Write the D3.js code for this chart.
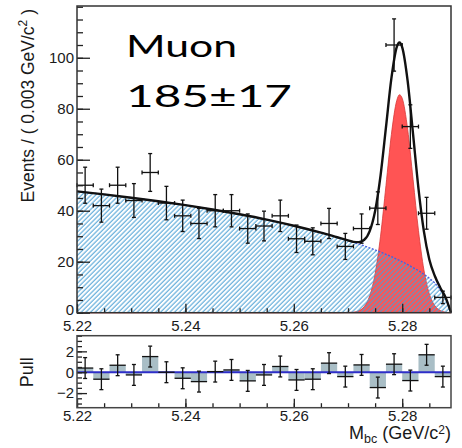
<!DOCTYPE html>
<html>
<head>
<meta charset="utf-8">
<style>
    body { margin: 0; background: white; }
    svg { display: block; font-family: "Liberation Sans", Arial, sans-serif; }
    .tick text { font-size: 15px; fill: #1a1a1a; }
</style>
</head>
<body>
<svg width="462" height="448"></svg>
<script src="https://d3js.org/d3.v7.min.js"></script>
<script>
// histogram: M_bc, 23 bins of 0.003 GeV/c^2 starting at 5.22
const massLo = 5.22
const binW = 0.003
const counts = [50, 42, 50, 44, 55, 43, 38, 35, 40, 40, 33, 34, 38, 29, 28, 35, 26, 33, 41, 105, 73, 39, 6]
const pulls = [0.4, -0.67, 0.67, -0.26, 1.5, 0.0, -0.58, -0.9, 0.06, 0.22, -0.83, -0.26, 0.55, -0.74, -0.67, 0.87, -0.42, 0.7, -1.47, 0.77, -0.8, 1.67, -0.42]

// fit curves
const curveMass = [5.220, 5.225, 5.230, 5.235, 5.240, 5.245, 5.250, 5.255, 5.260, 5.265, 5.268, 5.270, 5.271, 5.272, 5.273, 5.274, 5.275, 5.276, 5.277, 5.278, 5.279, 5.2795, 5.280, 5.281, 5.282, 5.283, 5.284, 5.285, 5.286, 5.287, 5.288, 5.289]
const bgCurve = [47.6, 46.4, 45.1, 43.7, 42.2, 40.5, 38.6, 36.5, 34.1, 31.4, 29.6, 28.3, 27.6, 26.9, 26.2, 25.4, 24.6, 23.8, 22.9, 22.0, 21.0, 20.5, 20.0, 18.9, 17.7, 16.5, 15.1, 13.5, 11.7, 9.0, 5.8, 0]
const sigCurve = [0, 0, 0, 0, 0, 0, 0, 0, 0, 0, 0, 0.1, 0.2, 0.8, 2.4, 6.6, 15.3, 30.0, 49.8, 69.9, 83.3, 85.5, 84.1, 72.0, 52.3, 32.2, 16.8, 7.4, 2.8, 0.9, 0.2, 0]

// ticks
const xMajor = [5.22, 5.24, 5.26, 5.28]
const xMinor = [5.22, 5.225, 5.23, 5.235, 5.24, 5.245, 5.25, 5.255, 5.26, 5.265, 5.27, 5.275, 5.28, 5.285]
const yMajor = [0, 20, 40, 60, 80, 100]
const yMinor = [0, 5, 10, 15, 20, 25, 30, 35, 40, 45, 50, 55, 60, 65, 70, 75, 80, 85, 90, 95, 100, 105, 110, 115, 120]
const pullMajor = [-2, 0, 2]
const pullMinor = [-3, -2.5, -2, -1.5, -1, -0.5, 0, 0.5, 1, 1.5, 2, 2.5, 3, 3.5]

const svg = d3.select("svg")

let left = 77, right = 451
let x = d3.scaleLinear().domain([5.22, 5.289]).range([left, right])
let y = d3.scaleLinear().domain([0, 120.3]).range([312.7, 6])
let yp = d3.scaleLinear().domain([-3.4, 3.5]).range([407.7, 335.7])

let centers = counts.map((c, i) => massLo + binW * (i + 0.5))
let total = bgCurve.map((b, i) => b + sigCurve[i])

// hatch pattern for background
let defs = svg.append("defs")
let pat = defs.append("pattern")
    .attr("id", "hatch")
    .attr("patternUnits", "userSpaceOnUse")
    .attr("width", 3.3)
    .attr("height", 3.3)
    .attr("patternTransform", "rotate(45)")
pat.append("line")
    .attr("x1", 1).attr("y1", -1).attr("x2", 1).attr("y2", 5)
    .attr("stroke", "#4aa0d4")
    .attr("stroke-opacity", 0.85)
    .attr("stroke-width", 1.2)

let pts = curveMass.map((m, i) => ({ m: m, bg: bgCurve[i], sig: sigCurve[i], tot: total[i] }))

// signal (red)
svg.append("path")
    .datum(pts)
    .attr("d", d3.area().curve(d3.curveMonotoneX)
        .x(d => x(d.m)).y0(y(0)).y1(d => y(d.sig)))
    .attr("fill", "#ff5454")
    .attr("stroke", "#d83838")
    .attr("stroke-width", 0.8)

// background (hatched)
svg.append("path")
    .datum(pts)
    .attr("d", d3.area().curve(d3.curveMonotoneX)
        .x(d => x(d.m)).y0(y(0)).y1(d => y(d.bg)))
    .attr("fill", "url(#hatch)")

svg.append("path")
    .datum(pts)
    .attr("d", d3.line().curve(d3.curveMonotoneX).x(d => x(d.m)).y(d => y(d.bg)))
    .attr("fill", "none")
    .attr("stroke", "#4a5ee0")
    .attr("stroke-width", 1.3)
    .attr("stroke-dasharray", "2,1.5")

// total fit
svg.append("path")
    .datum(pts)
    .attr("d", d3.line().curve(d3.curveMonotoneX).x(d => x(d.m)).y(d => y(d.tot)))
    .attr("fill", "none")
    .attr("stroke", "#111")
    .attr("stroke-width", 2.4)

// data points
let half = (x(massLo + binW) - x(massLo)) / 2
let pg = svg.append("g").attr("stroke", "#111").attr("stroke-width", 1.3)
counts.forEach((n, i) => {
    let cx = x(centers[i]), e = Math.sqrt(n)
    let lo = y(n - e), hi = y(n + e), cy = y(n)
    pg.append("line").attr("x1", cx).attr("x2", cx).attr("y1", lo).attr("y2", hi)
    pg.append("line").attr("x1", cx - half).attr("x2", cx + half).attr("y1", cy).attr("y2", cy)
    pg.append("line").attr("x1", cx - 2).attr("x2", cx + 2).attr("y1", lo).attr("y2", lo)
    pg.append("line").attr("x1", cx - 2).attr("x2", cx + 2).attr("y1", hi).attr("y2", hi)
    pg.append("line").attr("x1", cx - half).attr("x2", cx - half).attr("y1", cy - 2).attr("y2", cy + 2)
    pg.append("line").attr("x1", cx + half).attr("x2", cx + half).attr("y1", cy - 2).attr("y2", cy + 2)
})

// main axes (ticks inside frame)
function styleAxis(g) {
    g.select(".domain").remove()
    g.selectAll(".tick line").attr("stroke", "#222").attr("stroke-width", 1.3)
}
svg.append("g").attr("transform", `translate(${left},0)`)
    .call(d3.axisLeft(y).tickValues(yMinor).tickSize(-6).tickFormat(""))
    .call(styleAxis)
svg.append("g").attr("transform", `translate(${left},0)`)
    .call(d3.axisLeft(y).tickValues(yMajor).tickSize(-13).tickPadding(3))
    .call(styleAxis)
    .call(g => g.selectAll(".tick text").filter(d => d === 0).attr("dy", "0.15em"))
svg.append("g").attr("transform", `translate(0,${y(0)})`)
    .call(d3.axisBottom(x).tickValues(xMinor).tickSize(-4.5).tickFormat(""))
    .call(styleAxis)
svg.append("g").attr("transform", `translate(0,${y(0)})`)
    .call(d3.axisBottom(x).tickValues(xMajor).tickSize(-9).tickPadding(8).tickFormat(d3.format(".2f")))
    .call(styleAxis)

svg.append("rect")
    .attr("x", left).attr("y", y.range()[1])
    .attr("width", right - left).attr("height", y.range()[0] - y.range()[1])
    .attr("fill", "none").attr("stroke", "#333").attr("stroke-width", 1.5)

// y title
let yt = svg.append("text")
    .attr("transform", "translate(34,9) rotate(-90)")
    .attr("text-anchor", "end")
    .attr("font-size", "17.5px")
    .attr("fill", "#1a1a1a")
yt.append("tspan").text("Events / ( 0.003 GeV/c")
yt.append("tspan").attr("dy", -7).attr("font-size", "12px").text("2")
yt.append("tspan").attr("dy", 7).text(" )")

// label text
svg.append("text")
    .attr("x", 126).attr("y", 56.5)
    .attr("font-family", "Lato, 'Open Sans', sans-serif")
    .attr("font-size", "30px")
    .attr("textLength", 111)
    .attr("lengthAdjust", "spacingAndGlyphs")
    .text("Muon")
svg.append("text")
    .attr("x", 126).attr("y", 106.5)
    .attr("font-family", "Lato, 'Open Sans', sans-serif")
    .attr("font-size", "31px")
    .attr("textLength", 166)
    .attr("lengthAdjust", "spacingAndGlyphs")
    .text("185\u00b117")

// pull panel
let pull = svg.append("g")
pull.selectAll(".pbox")
    .data(pulls)
    .join("rect")
    .attr("x", (p, i) => x(centers[i]) - half)
    .attr("width", half * 2)
    .attr("y", p => Math.min(yp(0), yp(p)))
    .attr("height", p => Math.abs(yp(p) - yp(0)))
    .attr("fill", "#a9bec6")

pull.append("line")
    .attr("x1", left).attr("x2", right)
    .attr("y1", yp(0)).attr("y2", yp(0))
    .attr("stroke", "#2e2ec8").attr("stroke-width", 2)

let pp = svg.append("g").attr("stroke", "#111").attr("stroke-width", 1.3)
pulls.forEach((p, i) => {
    let cx = x(centers[i])
    let lo = yp(p - 1), hi = yp(p + 1), cy = yp(p)
    pp.append("line").attr("x1", cx).attr("x2", cx).attr("y1", lo).attr("y2", hi)
    pp.append("line").attr("x1", cx - half).attr("x2", cx + half).attr("y1", cy).attr("y2", cy)
    pp.append("line").attr("x1", cx - 2).attr("x2", cx + 2).attr("y1", lo).attr("y2", lo)
    pp.append("line").attr("x1", cx - 2).attr("x2", cx + 2).attr("y1", hi).attr("y2", hi)
})

svg.append("g").attr("transform", `translate(${left},0)`)
    .call(d3.axisLeft(yp).tickValues(pullMinor).tickSize(-5).tickFormat(""))
    .call(styleAxis)
svg.append("g").attr("transform", `translate(${left},0)`)
    .call(d3.axisLeft(yp).tickValues(pullMajor).tickSize(-10).tickPadding(3).tickFormat(d3.format("d")))
    .call(styleAxis)
svg.append("g").attr("transform", `translate(0,${yp.range()[0]})`)
    .call(d3.axisBottom(x).tickValues(xMinor).tickSize(-4.5).tickFormat(""))
    .call(styleAxis)
svg.append("g").attr("transform", `translate(0,${yp.range()[0]})`)
    .call(d3.axisBottom(x).tickValues(xMajor).tickSize(-9).tickPadding(3).tickFormat(d3.format(".2f")))
    .call(styleAxis)

svg.append("rect")
    .attr("x", left).attr("y", yp.range()[1])
    .attr("width", right - left).attr("height", yp.range()[0] - yp.range()[1])
    .attr("fill", "none").attr("stroke", "#444").attr("stroke-width", 1.5)

svg.append("text")
    .attr("transform", `translate(33,${yp(0)}) rotate(-90)`)
    .attr("text-anchor", "middle")
    .attr("font-size", "18px")
    .attr("fill", "#1a1a1a")
    .text("Pull")

// x title
let xt = svg.append("text")
    .attr("x", right).attr("y", 439)
    .attr("text-anchor", "end")
    .attr("font-size", "18px")
    .attr("fill", "#1a1a1a")
xt.append("tspan").text("M")
xt.append("tspan").attr("dy", 4).attr("font-size", "12.5px").text("bc")
xt.append("tspan").attr("dy", -4).text(" (GeV/c")
xt.append("tspan").attr("dy", -5.5).attr("font-size", "12px").text("2")
xt.append("tspan").attr("dy", 5.5).text(")")
</script>
</body>
</html>
